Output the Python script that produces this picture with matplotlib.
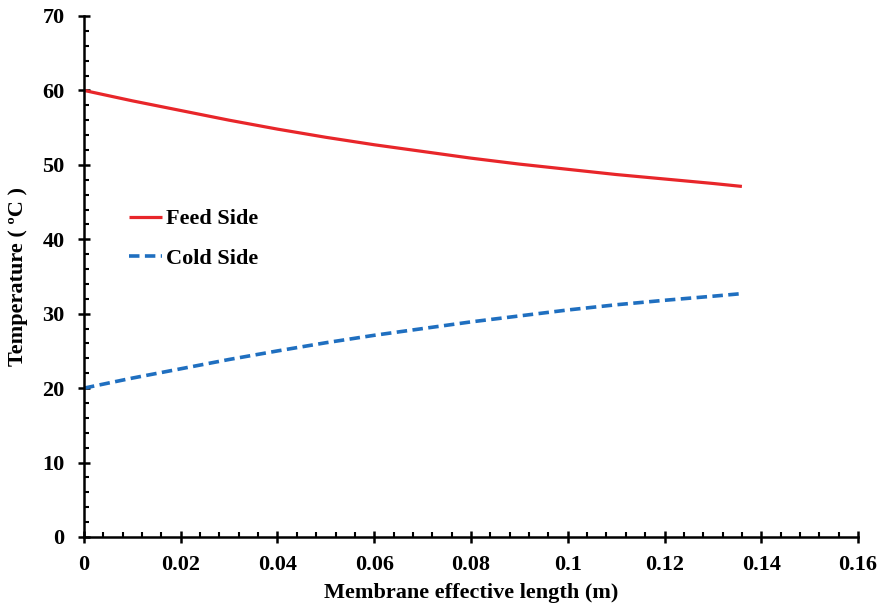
import matplotlib
matplotlib.use("Agg")
import matplotlib.pyplot as plt
from matplotlib.ticker import MultipleLocator

x = [0, 0.01, 0.02, 0.03, 0.04, 0.05, 0.06, 0.07, 0.08, 0.09, 0.10, 0.11, 0.12, 0.13, 0.136]
feed_side = [60, 58.6, 57.3, 56.0, 54.8, 53.7, 52.7, 51.8, 50.9, 50.1, 49.4, 48.7, 48.1, 47.5, 47.1]
cold_side = [20, 21.35, 22.6, 23.85, 25.0, 26.1, 27.1, 28.0, 28.9, 29.7, 30.5, 31.2, 31.8, 32.35, 32.7]
xticks = [0, 0.02, 0.04, 0.06, 0.08, 0.1, 0.12, 0.14, 0.16]
xticklabels = ["0", "0.02", "0.04", "0.06", "0.08", "0.1", "0.12", "0.14", "0.16"]
yticks = [0, 10, 20, 30, 40, 50, 60, 70]

plt.rcParams['font.family'] = ['Liberation Serif', 'DejaVu Serif']
plt.rcParams['font.weight'] = 'bold'

fig = plt.figure(figsize=(8.85, 6.08), dpi=100)
ax = fig.add_axes([0.0949, 0.1168, 0.8746, 0.8569])

ax.plot(x, feed_side, color='#e8262a', lw=2.3, label='Feed Side', solid_capstyle='butt')
ax.plot(x, cold_side, color='#1f6fc0', lw=2.6, dashes=(2.9, 1.5), label='Cold Side')

ax.set_xlim(0, 0.16)
ax.set_ylim(0, 70)
ax.set_xticks(xticks)
ax.set_xticklabels(xticklabels)
ax.set_yticks(yticks)
ax.xaxis.set_minor_locator(MultipleLocator(0.004))
ax.yaxis.set_minor_locator(MultipleLocator(2))

for s in ['top', 'right']:
    ax.spines[s].set_visible(False)
for s in ['left', 'bottom']:
    ax.spines[s].set_linewidth(1.8)

ax.tick_params(which='major', direction='inout', length=8, width=1.8, labelsize=16)
ax.tick_params(axis='y', which='major', pad=10)
ax.tick_params(axis='x', which='major', pad=9)
ax.tick_params(which='minor', direction='in', length=3.5, width=1.5)

ax.set_xlabel('Membrane effective length (m)', fontsize=16, fontweight='bold', labelpad=6)
ax.set_ylabel('Temperature ( ºC )', fontsize=16, fontweight='bold', labelpad=10)

leg = ax.legend(loc='upper left', bbox_to_anchor=(0.058, 0.630), frameon=False,
                fontsize=16, handlelength=1.5, handletextpad=0.18, labelspacing=0.87,
                borderpad=0, borderaxespad=0)

fig.savefig('out.png', dpi=100)
